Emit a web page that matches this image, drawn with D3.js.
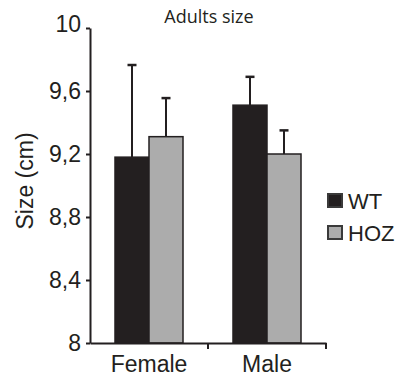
<!DOCTYPE html>
<html>
<head>
<meta charset="utf-8">
<script src="https://cdn.jsdelivr.net/npm/d3@7"></script>
<style>
	body { margin: 0; background: #fff; }
	svg { display: block; }
	.axis text { font-family: "Liberation Sans", Arial, sans-serif; font-size: 23px; fill: #231f20; }
	.axis path, .axis line { stroke: #231f20; stroke-width: 2; }
</style>
</head>
<body>
<script>
const groups   = ["Female", "Male"];
const series   = ["WT", "HOZ"];
const means    = { WT: [9.18, 9.51], HOZ: [9.31, 9.20] };
const errors   = { WT: [0.585, 0.18], HOZ: [0.245, 0.15] };
const yTicks   = [8, 8.4, 8.8, 9.2, 9.6, 10];
const colors   = { WT: "#231f20", HOZ: "#acacac" };

const width  = 403,
	height = 377;
const margins = { left: 90, right: 77, top: 28, bottom: 34 };

const svg = d3.select("body").append("svg")
	.attr("width", width)
	.attr("height", height);

const x = d3.scaleBand()
	.domain(groups)
	.range([margins.left, width - margins.right])
	.padding(0);

const xSub = d3.scaleBand()
	.domain(series)
	.range([0, x.bandwidth()])
	.paddingInner(0)
	.paddingOuter(0.735);

const y = d3.scaleLinear()
	.domain([8, 10])
	.range([height - margins.bottom, margins.top]);

const fmt = d => String(+d.toFixed(1)).replace(".", ",");

// bars
const rows = [];
groups.forEach((g, i) => series.forEach(s => rows.push({ g, s, v: means[s][i], e: errors[s][i] })));

const bars = svg.append("g").attr("class", "bars");

// error bars (drawn under the bars)
bars.selectAll("line.err")
	.data(rows)
	.join("line")
	.attr("class", "err")
	.attr("x1", d => x(d.g) + xSub(d.s) + xSub.bandwidth() / 2)
	.attr("x2", d => x(d.g) + xSub(d.s) + xSub.bandwidth() / 2)
	.attr("y1", d => y(d.v))
	.attr("y2", d => y(d.v + d.e))
	.attr("stroke", "#231f20")
	.attr("stroke-width", 2);

bars.selectAll("line.cap")
	.data(rows)
	.join("line")
	.attr("class", "cap")
	.attr("x1", d => x(d.g) + xSub(d.s) + xSub.bandwidth() / 2 - 4.5)
	.attr("x2", d => x(d.g) + xSub(d.s) + xSub.bandwidth() / 2 + 4.5)
	.attr("y1", d => y(d.v + d.e))
	.attr("y2", d => y(d.v + d.e))
	.attr("stroke", "#231f20")
	.attr("stroke-width", 2.5);

bars.selectAll("rect")
	.data(rows)
	.join("rect")
	.attr("x", d => x(d.g) + xSub(d.s))
	.attr("y", d => y(d.v))
	.attr("width", xSub.bandwidth())
	.attr("height", d => y(8) - y(d.v))
	.attr("fill", d => colors[d.s])
	.attr("stroke", "#231f20")
	.attr("stroke-width", 1.5);

// axes
const yAxis = svg.append("g")
	.attr("class", "axis y")
	.attr("transform", "translate(" + margins.left + ",0)")
	.call(d3.axisLeft(y).tickValues(yTicks).tickFormat(fmt).tickSize(4).tickPadding(5).tickSizeOuter(0));

// top label sits a little above its tick in the original
yAxis.selectAll(".tick text").filter(d => d === 10).attr("dy", "0.15em");

const xAxis = svg.append("g")
	.attr("class", "axis x")
	.attr("transform", "translate(0," + (height - margins.bottom) + ")")
	.call(d3.axisBottom(x).tickSize(0).tickSizeOuter(0).tickPadding(8));

xAxis.selectAll(".tick text").attr("dy", "0.93em");

// separators between groups
xAxis.selectAll("line.sep")
	.data(groups)
	.join("line")
	.attr("class", "sep")
	.attr("x1", d => x(d) + x.bandwidth())
	.attr("x2", d => x(d) + x.bandwidth())
	.attr("y1", 0)
	.attr("y2", 6);

// title and axis label
svg.append("text")
	.attr("x", 209)
	.attr("y", 23)
	.attr("text-anchor", "middle")
	.attr("font-family", "'Open Sans', sans-serif")
	.attr("font-size", 18)
	.attr("fill", "#231f20")
	.text("Adults size");

svg.append("text")
	.attr("transform", "translate(33,181) rotate(-90)")
	.attr("text-anchor", "middle")
	.attr("font-family", "'Liberation Sans', Arial, sans-serif")
	.attr("font-size", 23)
	.attr("fill", "#231f20")
	.text("Size (cm)");

// legend
const legend = svg.append("g").attr("class", "legend")
	.selectAll("g")
	.data(series)
	.join("g")
	.attr("transform", (d, i) => "translate(328," + (194 + i * 32) + ")");

legend.append("rect")
	.attr("width", 14)
	.attr("height", 13)
	.attr("fill", d => colors[d])
	.attr("stroke", "#3a3a3a")
	.attr("stroke-width", 2);

legend.append("text")
	.attr("x", 20)
	.attr("y", 14.5)
	.attr("font-family", "'Liberation Sans', Arial, sans-serif")
	.attr("font-size", 22)
	.attr("fill", "#231f20")
	.text(d => d);
</script>
</body>
</html>
